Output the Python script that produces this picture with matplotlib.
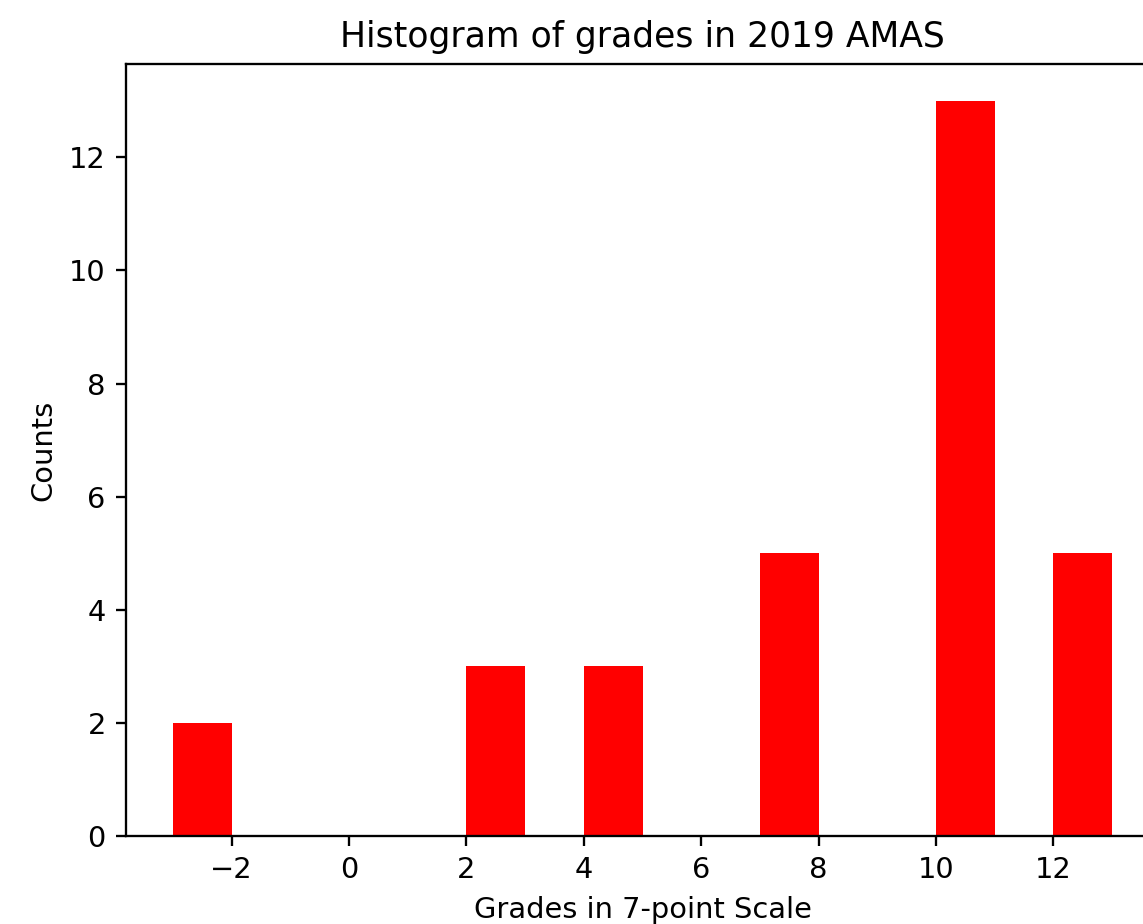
import numpy as np
import matplotlib
matplotlib.use("Agg")
import matplotlib.pyplot as plt

# grades on the Danish 7-point scale and how many students got each
grades = [-3, 0, 2, 4, 7, 10, 12]
counts = [2, 0, 3, 3, 5, 13, 5]
bin_edges = np.arange(-3, 14, 1)


def main() -> None:
    dpi = 208
    fig = plt.figure(figsize=(1143 / dpi, 924 / dpi), dpi=dpi)
    # the original picture is cropped, so the axes run past the right edge
    ax = fig.add_axes([126 / 1143, 88 / 924, 1033 / 1143, 772 / 924])

    ax.hist(grades, bins=bin_edges, weights=counts, color='red')

    ax.set_title("Histogram of grades in 2019 AMAS")
    ax.set_xlabel("Grades in 7-point Scale")
    ax.set_ylabel("Counts")

    fig.savefig("out.png", dpi=dpi)


if __name__ == "__main__":
    main()
